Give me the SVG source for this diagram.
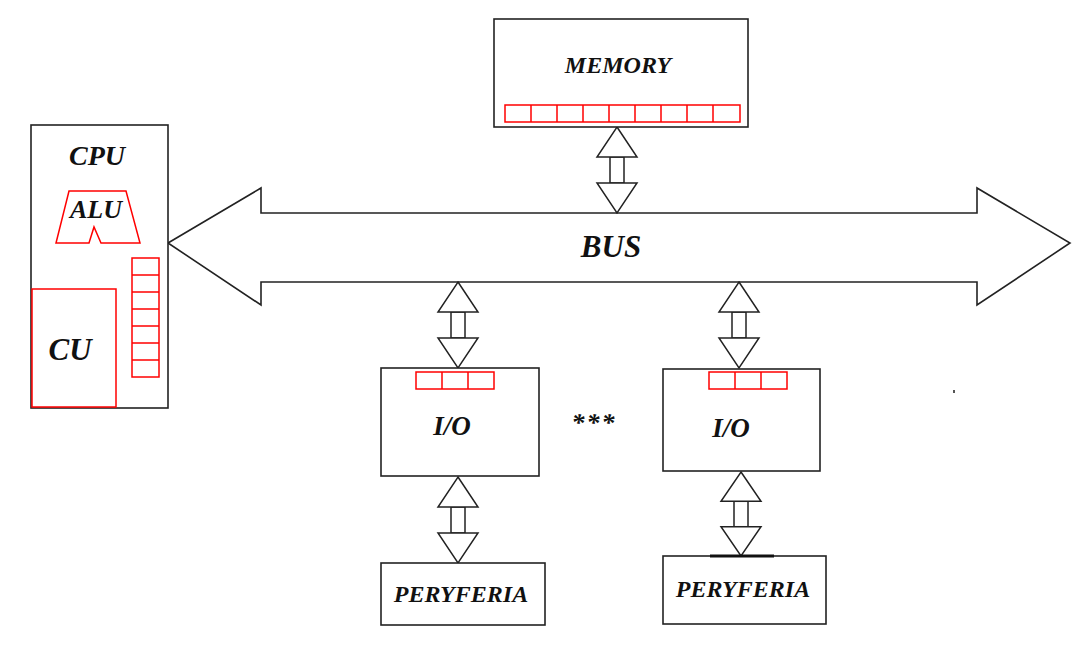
<svg xmlns="http://www.w3.org/2000/svg" width="1078" height="649" viewBox="0 0 1078 649">
<style>
.box{fill:#fff;stroke:#222;stroke-width:1.6}
.reg{fill:none;stroke:#f00;stroke-width:1.5}
.arr{fill:#fff;stroke:#222;stroke-width:1.5;stroke-linejoin:miter}
.bus{fill:#fff;stroke:#222;stroke-width:1.6}
.t{font-family:"Liberation Serif","Times New Roman",serif;font-weight:bold;font-style:italic;fill:#111;text-anchor:middle}
</style>
<defs>
<g id="darrow">
<rect class="arr" x="-7" y="30" width="14" height="26"/>
<polygon class="arr" points="0,0 20,30 -20,30"/>
<polygon class="arr" points="-20,56 20,56 0,86"/>
</g>
</defs>
<rect width="1078" height="649" fill="#fff"/>
<g id="connectors">
<g id="bus">
<polygon class="bus" points="168,243 261,188 261,213 977,213 977,188 1070,243 977,305 977,282 261,282 261,305"/>
<text class="t" x="611" y="257" font-size="31">BUS</text>
</g>
<use href="#darrow" x="617" y="127"/>
<use href="#darrow" transform="translate(458,282)"/>
<use href="#darrow" transform="translate(739,282)"/>
<use href="#darrow" transform="translate(458,477)"/>
<use href="#darrow" transform="translate(741,472) scale(1,0.977)"/>
</g>
<g id="cpu">
<rect class="box" x="31" y="125" width="137" height="283"/>
<text class="t" x="97" y="165" font-size="28">CPU</text>
<polygon class="reg" points="69,191 126,191 140,243 101,243 94,227 89,243 56,243"/>
<text class="t" x="96" y="218" font-size="26">ALU</text>
<rect class="reg" x="132" y="258" width="27" height="119"/>
<path class="reg" d="M132,275H159M132,292H159M132,309H159M132,326H159M132,343H159M132,360H159"/>
<rect class="reg" x="32" y="289" width="84" height="118"/>
<text class="t" x="70" y="360" font-size="31">CU</text>
</g>
<g id="memory">
<rect class="box" x="494" y="19" width="254" height="108"/>
<text class="t" x="618" y="73" font-size="24">MEMORY</text>
<rect class="reg" x="505" y="105" width="235" height="17"/>
<path class="reg" d="M531,105V122M557,105V122M583,105V122M609,105V122M635,105V122M661,105V122M687,105V122M713,105V122"/>
</g>
<g id="io1">
<rect class="box" x="381" y="368" width="158" height="108"/>
<rect class="reg" x="416" y="372" width="78" height="17"/>
<path class="reg" d="M442,372V389M468,372V389"/>
<text class="t" x="452" y="435" font-size="27">I/O</text>
</g>
<g id="io2">
<rect class="box" x="663" y="369" width="157" height="102"/>
<rect class="reg" x="709" y="372" width="78" height="17"/>
<path class="reg" d="M735,372V389M761,372V389"/>
<text class="t" x="731" y="437" font-size="27">I/O</text>
</g>
<g id="dots">
<text class="t" x="594" y="431" font-size="26" font-style="normal" letter-spacing="2">***</text>
</g>
<g id="per1">
<rect class="box" x="381" y="563" width="164" height="62"/>
<text class="t" x="461" y="602" font-size="24">PERYFERIA</text>
</g>
<g id="per2">
<rect class="box" x="663" y="556" width="163" height="68"/>
<path d="M710,556H774" stroke="#111" stroke-width="3"/>
<text class="t" x="743" y="597" font-size="24">PERYFERIA</text>
</g>
<rect x="953" y="390" width="2" height="3" fill="#555"/>
</svg>
